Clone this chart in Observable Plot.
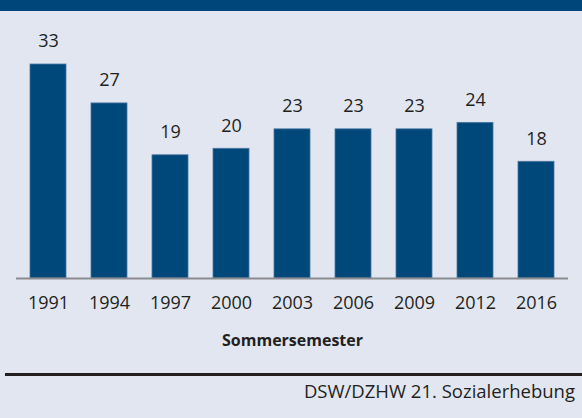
<!DOCTYPE html>
<html>
<head>
<meta charset="utf-8">
<script src="https://cdn.jsdelivr.net/npm/d3@7"></script>
<script src="https://cdn.jsdelivr.net/npm/@observablehq/plot@0.6"></script>
<style>
  html, body { margin: 0; padding: 0; background: #e2e6f0; width: 582px; height: 418px; overflow: hidden; }
  body { font-family: "Open Sans", sans-serif; color: #231f20; }
  #band { height: 11px; background: #00467a; }
  #chart svg { display: block; background: transparent; }
  #rule { margin: 7px 0 0 5px; border-top: 3px solid #231f20; }
  #caption { text-align: right; padding-right: 7px; font-size: 18.5px; line-height: 24px; margin-top: 3px; }
</style>
</head>
<body>
<div id="band"></div>
<div id="chart"></div>
<div id="rule"></div>
<div id="caption">DSW/DZHW 21. Sozialerhebung</div>
<script>
const years = ["1991", "1994", "1997", "2000", "2003", "2006", "2009", "2012", "2016"];
const values = [33, 27, 19, 20, 23, 23, 23, 24, 18];
const axisTitle = "Sommersemester";

const data = years.map((y, i) => ({year: y, value: values[i]}));

const chart = Plot.plot({
  width: 582,
  height: 355,
  marginTop: 53,
  marginBottom: 88,
  marginLeft: 16,
  marginRight: 14,
  style: {fontFamily: "Open Sans, sans-serif", color: "#231f20", background: "transparent"},
  x: {domain: years, paddingInner: 0.41, paddingOuter: 0.21, label: null},
  y: {domain: [0, 33], axis: null},
  marks: [
    Plot.barY(data, {x: "year", y: "value", fill: "#00477a", stroke: "#4a78a3", strokeWidth: 0.8}),
    Plot.ruleY([0], {stroke: "#8b8b90", strokeWidth: 2}),
    Plot.text(data, {x: "year", y: "value", text: d => String(d.value), dy: -23, fontSize: 18, fill: "#231f20"}),
    Plot.axisX({tickSize: 0, tickPadding: 18, fontSize: 18, label: null}),
    Plot.axisX({ticks: [], label: axisTitle, labelAnchor: "center", labelOffset: 67, fontSize: 16, fontWeight: "bold", tickSize: 0})
  ]
});
document.getElementById("chart").appendChild(chart);
</script>
</body>
</html>
